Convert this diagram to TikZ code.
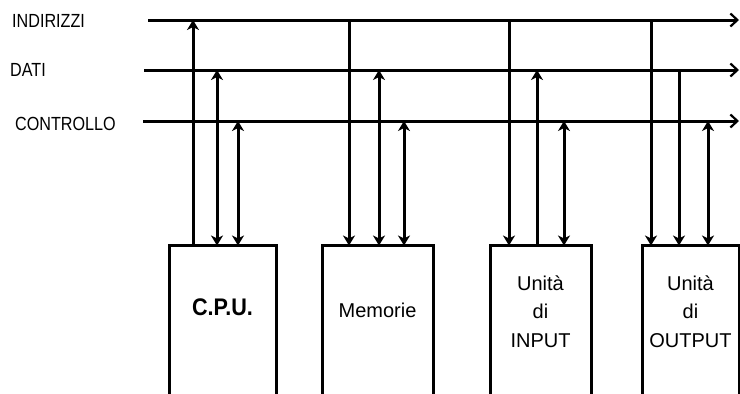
\documentclass[tikz,border=0pt]{standalone}
\usepackage{fontspec}
\setmainfont{Liberation Sans}
\newfontfamily\lblfont{Liberation Sans}[FakeStretch=0.85]
\newfontfamily\cpufont{Liberation Sans Bold}[FakeStretch=0.9]
\usetikzlibrary{arrows.meta}

\tikzset{
  bus/.style={line width=3pt,-{Straight Barb[length=7pt,width=13pt,line width=2.2pt]}},
  tap/.style={line width=3pt,>={Stealth[length=10pt,width=12pt,inset=3pt]}},
  unit/.style={draw,line width=3pt,outer sep=0pt,inner sep=0pt,anchor=north,minimum height=200pt},
  lbl/.style={anchor=west,inner sep=0pt,font=\lblfont\fontsize{19}{22}\selectfont},
  utxt/.style={inner sep=0pt,align=center,font=\fontsize{20}{28.5}\selectfont}
}

\begin{document}
\begin{tikzpicture}[x=1pt,y=-1pt]
  \useasboundingbox (0,0) rectangle (740,394);
  % bus
  \node[lbl] (lind) at (12,20.5) {INDIRIZZI};
  \node[lbl] (ldat) at (10,70) {DATI};
  \node[lbl] (lctl) at (15,123.5) {CONTROLLO};
  \coordinate (ind) at (148,20);
  \coordinate (dat) at (144,70);
  \coordinate (ctl) at (143,121);
  \coordinate (rend) at (739,0);
  \foreach \b in {ind,dat,ctl}
    \draw[bus] (\b) -- (\b -| rend);
  % units
  \node[unit,minimum width=107pt] (cpu) at (222.5,245.5) {};
  \node[unit,minimum width=111pt] (mem) at (377.5,245.5) {};
  \node[unit,minimum width=101pt] (inp) at (540.5,245.5) {};
  \node[unit,minimum width=97pt] (out) at (690.5,245.5) {};
  \node[utxt,anchor=base,font=\cpufont\fontsize{24}{28}\selectfont] (cputxt) at ([yshift=-69.5pt]cpu.north) {C.P.U.};
  \node[utxt,anchor=base] (memtxt) at ([yshift=-71.5pt]mem.north) {Memorie};
  \node[utxt,anchor=north] (inptxt) at ([yshift=-30pt]inp.north) {Unità\\di\\INPUT};
  \node[utxt,anchor=north] (outtxt) at ([yshift=-30pt]out.north) {Unità\\di\\OUTPUT};
  % indirizzi
  \draw[tap,<-] (193,0 |- ind) -- (193,0 |- cpu.north);
  \foreach \x/\u in {349/mem,509/inp,651/out}
    \draw[tap,->] (\x,0 |- ind) -- (\x,0 |- \u.north);
  % dati
  \foreach \x/\u in {217/cpu,379/mem}
    \draw[tap,<->] (\x,0 |- dat) -- (\x,0 |- \u.north);
  \draw[tap,<-] (537,0 |- dat) -- (537,0 |- inp.north);
  \draw[tap,->] (679,0 |- dat) -- (679,0 |- out.north);
  % controllo
  \foreach \x/\u in {238/cpu,404/mem,564/inp,708/out}
    \draw[tap,<->] (\x,0 |- ctl) -- (\x,0 |- \u.north);
\end{tikzpicture}
\end{document}
